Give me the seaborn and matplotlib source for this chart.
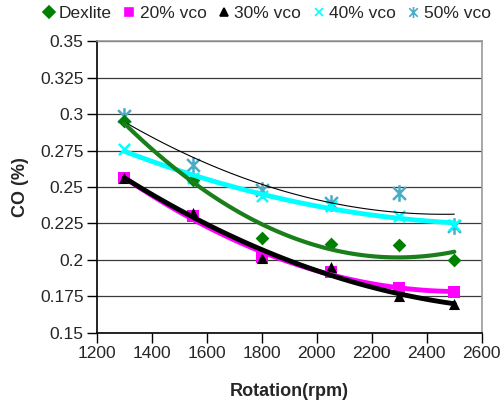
import numpy as np
import pandas as pd
import seaborn as sns
import matplotlib
matplotlib.use("Agg")
import matplotlib.pyplot as plt
from matplotlib.lines import Line2D
from matplotlib.path import Path

rpm = [1300, 1550, 1800, 2050, 2300, 2500]
dexlite = [0.295, 0.255, 0.215, 0.211, 0.210, 0.200]
vco20 = [0.256, 0.230, 0.202, 0.192, 0.181, 0.178]
vco30 = [0.256, 0.232, 0.201, 0.195, 0.175, 0.170]
vco40 = [0.276, 0.256, 0.244, 0.237, 0.230, 0.224]
vco50 = [0.299, 0.265, 0.248, 0.239, 0.246, 0.223]
series_names = ["Dexlite", "20% vco", "30% vco", "40% vco", "50% vco"]
x_ticks = [1200, 1400, 1600, 1800, 2000, 2200, 2400, 2600]
y_ticks = [0.15, 0.175, 0.2, 0.225, 0.25, 0.275, 0.3, 0.325, 0.35]
y_tick_labels = ["0.15", "0.175", "0.2", "0.225", "0.25", "0.275", "0.3", "0.325", "0.35"]

sns.set_style("white")
plt.rcParams['font.family'] = ['Liberation Sans', 'DejaVu Sans']

star = Path([(-1, -1), (1, 1), (-1, 1), (1, -1), (0, -1.3), (0, 1.3)],
            [Path.MOVETO, Path.LINETO, Path.MOVETO, Path.LINETO, Path.MOVETO, Path.LINETO])

styles = {
    "Dexlite": dict(marker="D", mcolor="#008000", lw=3.0, ms=7, line="#1a7f1a"),
    "20% vco": dict(marker="s", mcolor="#FF00FF", lw=3.5, ms=8, line="#FF00FF"),
    "30% vco": dict(marker="^", mcolor="black", lw=3.5, ms=8, line="black"),
    "40% vco": dict(marker="x", mcolor="#00FFFF", lw=3.5, ms=8, line="#00FFFF"),
    "50% vco": dict(marker=star, mcolor="#4BACC6", lw=0.8, ms=12, line="black"),
}

values = [dexlite, vco20, vco30, vco40, vco50]
df = pd.DataFrame({"rpm": rpm * 5,
                   "co": sum(values, []),
                   "series": sum([[n] * len(rpm) for n in series_names], [])})

fig = plt.figure(figsize=(5.04, 4.03), dpi=100)
ax = fig.add_axes([0.192, 0.174, 0.764, 0.724])

xs = np.linspace(min(rpm), max(rpm), 100)
fit_rows = []
for name, vals in zip(series_names, values):
    c = np.polyfit(rpm, vals, 2)
    fit_rows.append(pd.DataFrame({"rpm": xs, "co": np.polyval(c, xs), "series": name}))
fits = pd.concat(fit_rows)

order_draw = ["50% vco", "40% vco", "Dexlite", "20% vco", "30% vco"]
for name in order_draw:
    st = styles[name]
    sub = df[df.series == name]
    lined = name in ("40% vco", "50% vco")
    sns.scatterplot(data=sub, x="rpm", y="co", ax=ax, marker=st["marker"],
                    s=st["ms"] ** 2, color=st["mcolor"],
                    linewidth=1.8 if lined else 0,
                    edgecolor=None if lined else st["mcolor"],
                    legend=False, zorder=3)
for name in order_draw:
    st = styles[name]
    fsub = fits[fits.series == name]
    sns.lineplot(data=fsub, x="rpm", y="co", ax=ax, color=st["line"], lw=st["lw"],
                 legend=False, zorder=4)

ax.set_xlim(1200, 2600)
ax.set_ylim(0.15, 0.35)
ax.set_xticks(x_ticks)
ax.set_yticks(y_ticks)
ax.set_yticklabels(y_tick_labels)
ax.grid(axis="y", color="#3a3a3a", lw=0.9)
ax.grid(axis="x", visible=False)
ax.set_axisbelow(True)
for s in ["left", "bottom"]:
    ax.spines[s].set_color("black")
    ax.spines[s].set_linewidth(1.2)
for s in ["right", "top"]:
    ax.spines[s].set_color("#999999")
    ax.spines[s].set_linewidth(1.2)
ax.tick_params(axis="both", labelsize=12.5, direction="out", length=7, width=1,
               color="black", left=True, bottom=True, pad=2.5)
ax.set_xlabel("Rotation(rpm)", fontsize=13, fontweight="bold", labelpad=16)
ax.set_ylabel("CO (%)", fontsize=13, fontweight="bold", labelpad=8)

handles = []
for name in series_names:
    st = styles[name]
    handles.append(Line2D([], [], linestyle="none", marker=st["marker"],
                          color=st["mcolor"], markersize=6 if name != "50% vco" else 8,
                          markeredgewidth=1.2))
fig.legend(handles, series_names, loc="center", bbox_to_anchor=(0.528, 0.966), ncol=5,
           frameon=False, fontsize=12.5, handlelength=0.8, handletextpad=0.2,
           columnspacing=0.6, borderaxespad=0)

fig.savefig("out.png", dpi=100)
